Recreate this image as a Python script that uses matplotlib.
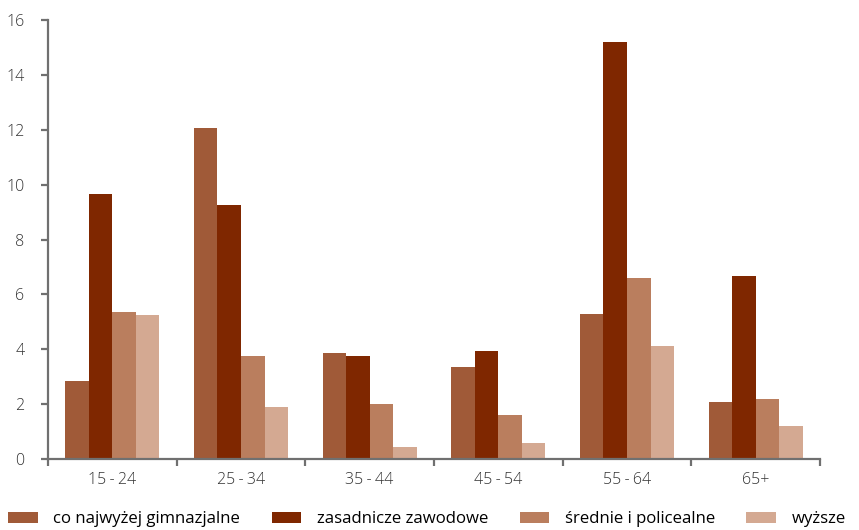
import matplotlib
matplotlib.use("Agg")
import matplotlib.pyplot as plt
import numpy as np

categories = ["15-24", "25-34", "35-44", "45-54", "55-64", "65+"]
series_names = ["co najwyżej gimnazjalne", "zasadnicze zawodowe", "średnie i policealne", "wyższe"]
gimn = [2.84, 12.06, 3.86, 3.35, 5.28, 2.08]
zaw = [9.66, 9.26, 3.75, 3.94, 15.2, 6.67]
sred = [5.36, 3.75, 2.0, 1.6, 6.6, 2.19]
wyz = [5.25, 1.9, 0.44, 0.58, 4.12, 1.2]
yticks = [0, 2, 4, 6, 8, 10, 12, 14, 16]

colors = ["#A05A38", "#7F2700", "#BA7E5E", "#D4A992"]
plt.rcParams['font.family'] = ['Open Sans', 'DejaVu Sans']

fig = plt.figure(figsize=(8.59, 5.30), dpi=100)
ax = fig.add_axes([48/859, 1-459/530, (820-48)/859, (459-20)/530])

x = np.arange(len(categories))
w = 0.183
data = [gimn, zaw, sred, wyz]
for i, (vals, c, name) in enumerate(zip(data, colors, series_names)):
    ax.bar(x + (i - 1.5) * w, vals, width=w, color=c, label=name, linewidth=0)

ax.set_xlim(-0.5, len(categories) - 0.5)
ax.set_ylim(0, 16)
ax.set_yticks(yticks)
ax.set_yticklabels([str(v) for v in yticks])
ax.set_xticks(x)
ax.set_xticklabels([c.replace("-", "\u2009-\u2009") for c in categories])
ax.set_xticks(np.arange(-0.5, len(categories), 1), minor=True)

grey = "#707070"
for s in ["top", "right"]:
    ax.spines[s].set_visible(False)
for s in ["left", "bottom"]:
    ax.spines[s].set_color(grey)
    ax.spines[s].set_linewidth(1.6)
ax.tick_params(axis="x", which="major", length=0, pad=9, labelsize=11.5, labelcolor="#333333")
ax.tick_params(axis="x", which="minor", length=5, width=1.6, color=grey, direction="out")
ax.tick_params(axis="y", length=5, width=1.6, color=grey, pad=12, labelsize=11.5, labelcolor="#333333")
for lab in ax.get_xticklabels() + ax.get_yticklabels():
    lab.set_fontweight("light")

fig.legend(loc="center left", bbox_to_anchor=(8/859, 0.02), ncol=4, frameon=False,
           fontsize=12.1, handlelength=1.78, handleheight=0.55, handletextpad=0.9,
           columnspacing=1.88, borderaxespad=0, borderpad=0)

fig.savefig("out.png", dpi=100)
